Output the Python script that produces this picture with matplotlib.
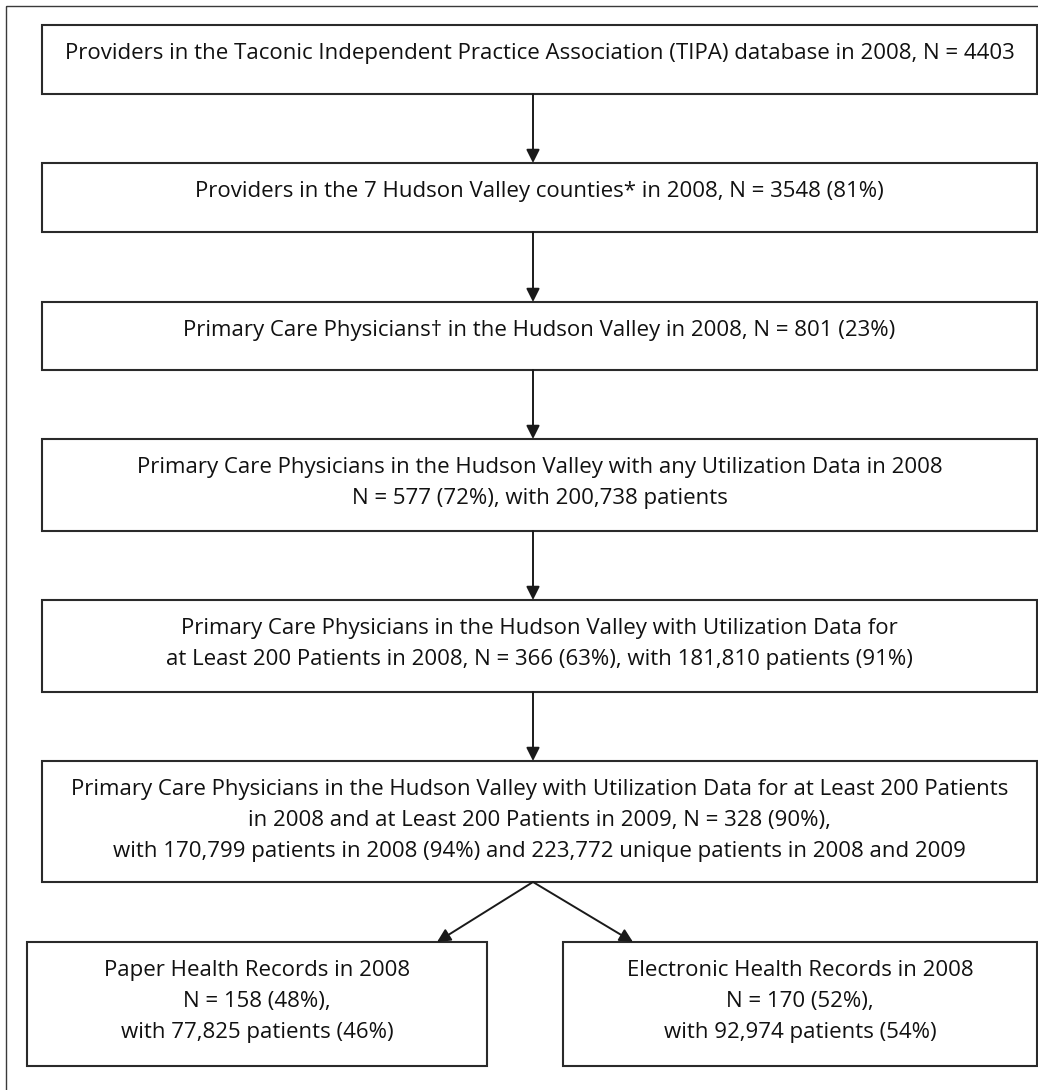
import matplotlib
matplotlib.use('Agg')
import matplotlib.pyplot as plt
from matplotlib.patches import Rectangle

# Box texts (one list of lines per box)
box_texts = [
    ["Providers in the Taconic Independent Practice Association (TIPA) database in 2008, N = 4403"],
    ["Providers in the 7 Hudson Valley counties* in 2008, N = 3548 (81%)"],
    ["Primary Care Physicians\u2020 in the Hudson Valley in 2008, N = 801 (23%)"],
    ["Primary Care Physicians in the Hudson Valley with any Utilization Data in 2008",
     "N = 577 (72%), with 200,738 patients"],
    ["Primary Care Physicians in the Hudson Valley with Utilization Data for",
     "at Least 200 Patients in 2008, N = 366 (63%), with 181,810 patients (91%)"],
    ["Primary Care Physicians in the Hudson Valley with Utilization Data for at Least 200 Patients",
     "in 2008 and at Least 200 Patients in 2009, N = 328 (90%),",
     "with 170,799 patients in 2008 (94%) and 223,772 unique patients in 2008 and 2009"],
]
split_texts = [
    ["Paper Health Records in 2008", "N = 158 (48%),", "with 77,825 patients (46%)"],
    ["Electronic Health Records in 2008", "N = 170 (52%),", "with 92,974 patients (54%)"],
]

# Layout (pixel coordinates)
W, H = 1038, 1090
main_x0, main_x1 = 42, 1037
main_tops = [25, 163, 302, 439, 600, 761]
main_bots = [94, 232, 370, 531, 692, 882]
split_boxes = [(27, 487), (563, 1037)]
split_top, split_bot = 942, 1066
arrow_x = 533
split_tips = [437, 633]

line_gap = 31
edge = '#2a2a2a'
fam = ['Open Sans', 'DejaVu Sans']
fs = 16

fig = plt.figure(figsize=(W / 100, H / 100), dpi=100)
ax = fig.add_axes([0, 0, 1, 1])
ax.set_xlim(0, W)
ax.set_ylim(H, 0)
ax.axis('off')

# outer frame (right/bottom edges fall outside the picture)
ax.add_patch(Rectangle((6, 6), W + 20, H + 20, fill=False, ec='#3a3a3a', lw=1.0))


def draw_box(x0, x1, y0, y1, lines):
    ax.add_patch(Rectangle((x0, y0), x1 - x0, y1 - y0, fill=False, ec=edge, lw=1.5))
    xc = (x0 + x1) / 2
    for k, s in enumerate(lines):
        ax.text(xc, y0 + 34 + k * line_gap, s, ha='center', va='baseline',
                fontsize=fs, family=fam, color='#111111')


for y0, y1, lines in zip(main_tops, main_bots, box_texts):
    draw_box(main_x0, main_x1, y0, y1, lines)

for (x0, x1), lines in zip(split_boxes, split_texts):
    draw_box(x0, x1, split_top, split_bot, lines)

aprops = dict(arrowstyle='-|>', mutation_scale=20, shrinkA=0, shrinkB=0,
              lw=1.4, color='#1a1a1a')

# vertical arrows between the stacked boxes
for i in range(len(main_tops) - 1):
    ax.annotate('', xy=(arrow_x, main_tops[i + 1]), xytext=(arrow_x, main_bots[i]),
                arrowprops=aprops)

# split arrows
for tx in split_tips:
    ax.annotate('', xy=(tx, split_top), xytext=(arrow_x, main_bots[-1]),
                arrowprops=aprops)

fig.savefig('out.png', dpi=100, facecolor='white')
